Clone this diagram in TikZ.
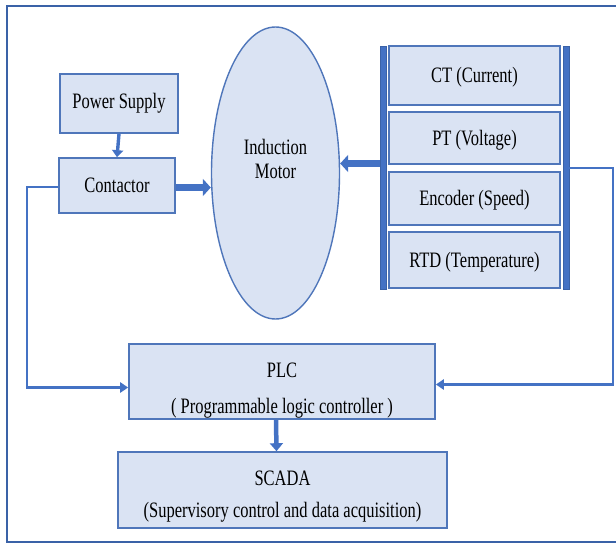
\documentclass[tikz,border=0pt]{standalone}
\usepackage{fontspec}
\setmainfont{Liberation Serif}[FakeStretch=0.75]
\usetikzlibrary{arrows.meta,shapes.geometric,calc}
\definecolor{boxfill}{HTML}{DAE3F3}
\definecolor{boxedge}{HTML}{4F76BA}
\definecolor{linkblue}{HTML}{4472C4}
\definecolor{framecol}{HTML}{3A62A7}
\tikzset{
  blockbox/.style={draw=boxedge, line width=1.6pt, fill=boxfill, inner sep=0pt,
    align=center, font=\fontsize{22}{34}\selectfont},
  sensorbox/.style={blockbox, minimum width=171pt, text height=17pt, text depth=2.6pt},
  sidebar/.style={draw=framecol, line width=0.8pt, fill=linkblue, inner sep=0pt, minimum width=6pt, minimum height=243pt},
  thinarrow/.style={draw=linkblue, line width=3.4pt, -{Triangle[width=11pt,length=7pt]}},
  midarrow/.style={draw=linkblue, line width=4.5pt, -{Triangle[width=13pt,length=8pt]}},
  fatarrow/.style={draw=linkblue, line width=7.5pt, -{Triangle[width=17pt,length=8pt]}},
  feedline/.style={draw=linkblue, line width=2.6pt, -{Triangle[width=10pt,length=8pt]}}
}
\begin{document}
\begin{tikzpicture}[x=1pt,y=-1pt]
\useasboundingbox (0,0) rectangle (616,543);
\draw[framecol, line width=2pt] (7,6) rectangle (619,541.5);
% nodes
\node[blockbox, minimum width=118pt, minimum height=59pt] (power) at (119,103.5) {Power Supply};
\node[blockbox, minimum width=116pt, minimum height=55pt] (contactor) at (117,185.5) {Contactor};
\node[ellipse, draw=boxedge, line width=1.4pt, fill=boxfill, inner sep=0pt, minimum width=128pt, minimum height=292pt] (motor) at (275.5,173) {};
\node[align=center, font=\fontsize{22}{24}\selectfont] (motortext) at (275.5,159) {Induction\\Motor};
\node[sidebar] (leftbar) at (383,167.5) {};
\node[sidebar] (rightbar) at (566,167.5) {};
\node[sensorbox, minimum height=59pt] (ct) at (474.5,75.5) {CT (Current)};
\node[sensorbox, minimum height=52pt] (pt) at (474.5,138) {PT (Voltage)};
\node[sensorbox, minimum height=53pt] (enc) at (474.5,198.5) {Encoder (Speed)};
\node[sensorbox, minimum height=56pt] (rtd) at (474.5,260) {RTD (Temperature)};
\node[blockbox, minimum width=306pt, minimum height=75pt,
  label={[align=center, font=\fontsize{22}{36}\selectfont, yshift=-9pt]center:PLC\\( Programmable logic controller )}] (plc) at (282,381.5) {};
\node[blockbox, minimum width=329pt, minimum height=76pt,
  label={[align=center, font=\fontsize{22}{32}\selectfont, yshift=-7pt]center:SCADA\\(Supervisory control and data acquisition)}] (scada) at (282.5,490) {};
\coordinate (lturn) at (27,187);
\coordinate (rturn) at (613,168);
% connectors
\draw[thinarrow] (power.south) -- (contactor.north);
\draw[fatarrow] ([yshift=-2pt]contactor.east) -- ([yshift=-2pt]contactor.east -| motor.west);
\draw[fatarrow] ([yshift=4pt]leftbar.west) -- ([yshift=4pt]leftbar.west -| motor.east);
\draw[feedline] (contactor.west |- lturn) -- (lturn) |- ([yshift=-6pt]plc.west);
\draw[feedline] (rightbar.east |- rturn) -- (rturn) |- ([yshift=-3pt]plc.east);
\draw[midarrow] ([xshift=-6pt]plc.south) -- ([xshift=-6pt]scada.north);
\end{tikzpicture}
\end{document}
